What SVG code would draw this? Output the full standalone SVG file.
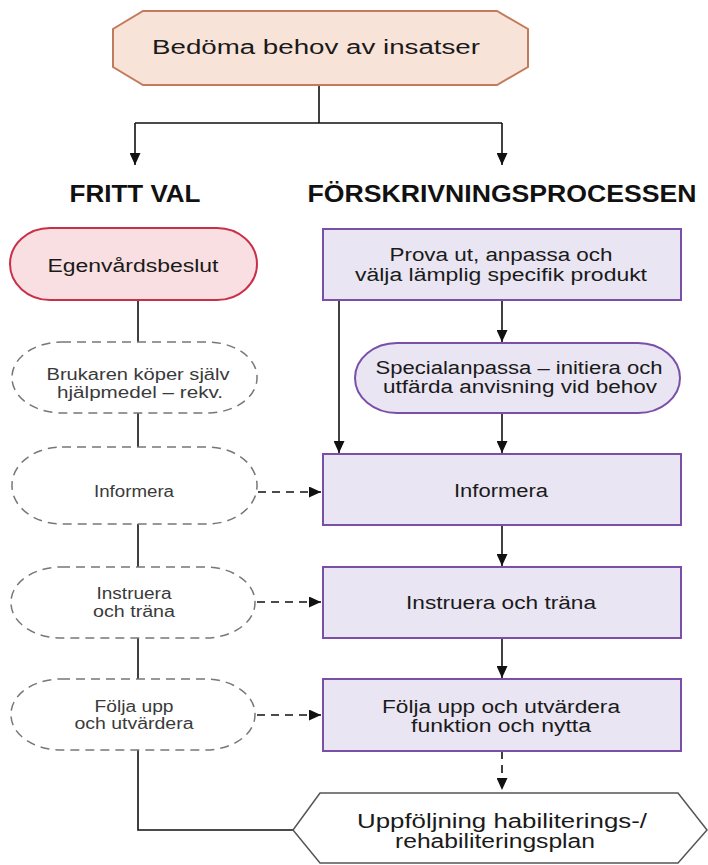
<svg xmlns="http://www.w3.org/2000/svg" width="708" height="865" viewBox="0 0 708 865">
<style>
text{font-family:"Liberation Sans",Arial,sans-serif;fill:#1a1a1a;text-anchor:middle}
.t20{font-size:20px}
.h{font-size:23px;font-weight:bold;fill:#111}
.b{font-size:18px}
.s{font-size:16px;fill:#3a3a3a}
.box{fill:#e9e5f2;stroke:#7b4fa8;stroke-width:2}
.dash{fill:#fff;stroke:#777;stroke-width:1.5;stroke-dasharray:9 6}
.ln{fill:none;stroke:#111;stroke-width:1.6}
.dl{fill:none;stroke:#111;stroke-width:1.6;stroke-dasharray:8 6}
</style>
<defs>
<marker id="ah" markerUnits="userSpaceOnUse" markerWidth="12" markerHeight="11" refX="12" refY="5.5" orient="auto">
<path d="M0,0 L12,5.5 L0,11 z" fill="#111"/>
</marker>
</defs>
<rect width="708" height="865" fill="#fff"/>

<g id="connectors">
<path class="ln" d="M319,85 V123 M135,123 H502"/>
<path class="ln" d="M135,123 V165" marker-end="url(#ah)"/>
<path class="ln" d="M502,123 V165" marker-end="url(#ah)"/>
<path class="ln" d="M502,300 V342" marker-end="url(#ah)"/>
<path class="ln" d="M502,413 V453" marker-end="url(#ah)"/>
<path class="ln" d="M339,300 V453" marker-end="url(#ah)"/>
<path class="ln" d="M502,525 V566" marker-end="url(#ah)"/>
<path class="ln" d="M502,638 V678" marker-end="url(#ah)"/>
<path class="dl" d="M502,751 V790" marker-end="url(#ah)"/>
<path class="ln" d="M138,300 V342 M138,413 V447 M138,524 V567 M138,638 V679 M138,750 V830 H293"/>
<path class="dl" d="M258,492 H321" marker-end="url(#ah)"/>
<path class="dl" d="M257,602 H321" marker-end="url(#ah)"/>
<path class="dl" d="M257,715 H321" marker-end="url(#ah)"/>
</g>

<g id="n-bedoma">
<path d="M143,11 H497 L528,29 V67 L497,85 H143 L113,67 V29 Z" fill="#f8e3d9" stroke="#c27a5c" stroke-width="2"/>
<text class="t20" x="316" y="54" textLength="328" lengthAdjust="spacingAndGlyphs">Bedöma behov av insatser</text>
</g>

<g id="h-fritt"><text class="h" x="135" y="202" textLength="131" lengthAdjust="spacingAndGlyphs">FRITT VAL</text></g>
<g id="h-forskr"><text class="h" x="502" y="202" textLength="389" lengthAdjust="spacingAndGlyphs">FÖRSKRIVNINGSPROCESSEN</text></g>

<g id="n-egenvard">
<rect x="10" y="228" width="247" height="72" rx="40" ry="36" fill="#f9dfe1" stroke="#c8304a" stroke-width="2"/>
<text class="b" x="133" y="272" textLength="171" lengthAdjust="spacingAndGlyphs">Egenvårdsbeslut</text>
</g>

<g id="n-brukaren">
<rect x="12" y="342" width="245" height="71" rx="50" ry="35" class="dash"/>
<text class="s" x="138" y="380" textLength="183" lengthAdjust="spacingAndGlyphs">Brukaren köper själv</text>
<text class="s" x="140" y="398" textLength="166" lengthAdjust="spacingAndGlyphs">hjälpmedel – rekv.</text>
</g>

<g id="n-informera-l">
<rect x="12" y="447" width="245" height="77" rx="50" ry="38" class="dash"/>
<text class="s" x="134" y="497" textLength="80" lengthAdjust="spacingAndGlyphs">Informera</text>
</g>

<g id="n-instruera-l">
<rect x="11" y="567" width="244" height="71" rx="50" ry="35" class="dash"/>
<text class="s" x="134" y="599" textLength="75" lengthAdjust="spacingAndGlyphs">Instruera</text>
<text class="s" x="134" y="617" textLength="82" lengthAdjust="spacingAndGlyphs">och träna</text>
</g>

<g id="n-folja-l">
<rect x="11" y="679" width="244" height="71" rx="50" ry="35" class="dash"/>
<text class="s" x="134" y="712" textLength="79" lengthAdjust="spacingAndGlyphs">Följa upp</text>
<text class="s" x="134" y="729" textLength="119" lengthAdjust="spacingAndGlyphs">och utvärdera</text>
</g>

<g id="n-prova">
<rect x="323" y="229" width="358" height="71" class="box"/>
<text class="b" x="501" y="261" textLength="223" lengthAdjust="spacingAndGlyphs">Prova ut, anpassa och</text>
<text class="b" x="501" y="281" textLength="292" lengthAdjust="spacingAndGlyphs">välja lämplig specifik produkt</text>
</g>

<g id="n-special">
<rect x="355" y="343" width="325" height="70" rx="42" ry="35" fill="#e9e5f2" stroke="#7b4fa8" stroke-width="2"/>
<text class="b" x="519" y="374" textLength="287" lengthAdjust="spacingAndGlyphs">Specialanpassa – initiera och</text>
<text class="b" x="520" y="393" textLength="274" lengthAdjust="spacingAndGlyphs">utfärda anvisning vid behov</text>
</g>

<g id="n-informera">
<rect x="323" y="454" width="358" height="71" class="box"/>
<text class="b" x="501" y="497" textLength="94" lengthAdjust="spacingAndGlyphs">Informera</text>
</g>

<g id="n-instruera">
<rect x="323" y="567" width="358" height="71" class="box"/>
<text class="b" x="501" y="609" textLength="190" lengthAdjust="spacingAndGlyphs">Instruera och träna</text>
</g>

<g id="n-folja">
<rect x="323" y="679" width="358" height="72" class="box"/>
<text class="b" x="501" y="713" textLength="238" lengthAdjust="spacingAndGlyphs">Följa upp och utvärdera</text>
<text class="b" x="501" y="732" textLength="180" lengthAdjust="spacingAndGlyphs">funktion och nytta</text>
</g>

<g id="n-uppfoljning">
<path d="M320,793 H678 L707,830 L678,863 H320 L293,830 Z" fill="#fff" stroke="#555" stroke-width="1.5"/>
<text class="t20" x="502" y="828" textLength="290" lengthAdjust="spacingAndGlyphs">Uppföljning habiliterings-/</text>
<text class="t20" x="495" y="848" textLength="200" lengthAdjust="spacingAndGlyphs">rehabiliteringsplan</text>
</g>
</svg>
